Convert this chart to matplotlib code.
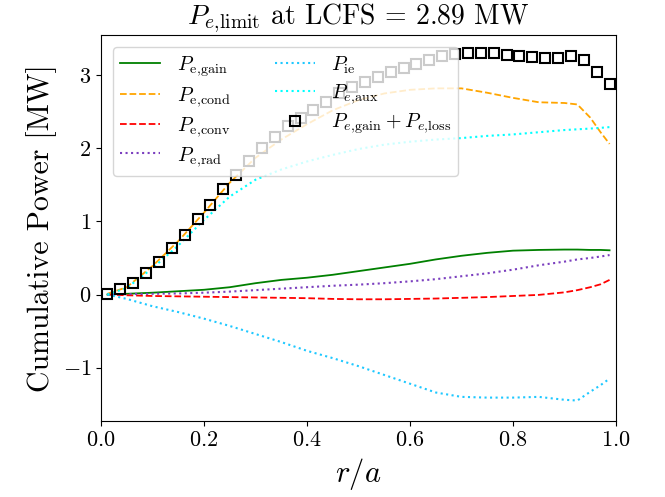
import matplotlib
matplotlib.use("Agg")
import matplotlib.pyplot as plt
import numpy as np

plt.rcParams['font.family'] = 'serif'
plt.rcParams['font.serif'] = ['cmr10']
plt.rcParams['mathtext.fontset'] = 'cm'
plt.rcParams['axes.formatter.use_mathtext'] = True

# radial grid of the curves
r_line = [0.0125, 0.05, 0.1, 0.15, 0.2, 0.25, 0.3, 0.35, 0.4, 0.45, 0.5, 0.55,
          0.6, 0.65, 0.7, 0.75, 0.8, 0.85, 0.9, 0.925, 0.95, 0.97, 0.9875]
p_gain = [0.0, 0.01, 0.025, 0.045, 0.065, 0.10, 0.155, 0.20, 0.23, 0.27, 0.32, 0.37,
          0.42, 0.48, 0.53, 0.57, 0.60, 0.61, 0.615, 0.615, 0.61, 0.61, 0.605]
p_cond = [0.01, 0.10, 0.39, 0.73, 1.12, 1.53, 1.87, 2.12, 2.33, 2.52, 2.66, 2.75,
          2.80, 2.82, 2.82, 2.76, 2.69, 2.63, 2.62, 2.60, 2.42, 2.22, 2.06]
p_conv = [0.0, -0.01, -0.02, -0.025, -0.03, -0.035, -0.04, -0.045, -0.05, -0.06, -0.065, -0.065,
          -0.06, -0.055, -0.045, -0.035, -0.02, -0.005, 0.03, 0.06, 0.10, 0.14, 0.20]
p_rad = [0.0, 0.005, 0.01, 0.015, 0.025, 0.04, 0.06, 0.08, 0.10, 0.12, 0.135, 0.155,
         0.18, 0.21, 0.25, 0.29, 0.34, 0.40, 0.45, 0.48, 0.50, 0.52, 0.54]
p_ie = [0.0, -0.06, -0.16, -0.24, -0.33, -0.43, -0.54, -0.65, -0.77, -0.87, -0.98, -1.10,
        -1.22, -1.34, -1.40, -1.41, -1.41, -1.40, -1.44, -1.45, -1.33, -1.24, -1.15]
p_aux = [0.0, 0.09, 0.36, 0.67, 1.02, 1.34, 1.57, 1.71, 1.82, 1.91, 1.99, 2.05,
         2.09, 2.12, 2.14, 2.17, 2.19, 2.22, 2.25, 2.26, 2.27, 2.28, 2.29]

# marker series
r_mark = [0.0125 + 0.025 * k for k in range(40)]
p_sum = [0.01, 0.07, 0.16, 0.29, 0.45, 0.63, 0.82, 1.03, 1.23, 1.44, 1.63, 1.83, 2.00, 2.16,
         2.30, 2.42, 2.53, 2.64, 2.75, 2.84, 2.91, 2.98, 3.04, 3.10, 3.16, 3.21, 3.26, 3.29,
         3.30, 3.30, 3.30, 3.28, 3.26, 3.25, 3.24, 3.24, 3.26, 3.21, 3.04, 2.88]

fig = plt.figure(figsize=(6.65, 4.97), dpi=100)
ax = fig.add_axes([101/665, 1 - 421/497, 515/665, 386/497])

ax.plot(r_line, p_gain, '-', color='green', lw=1.3, label=r'$P_{\mathrm{e{,}gain}}$')
ax.plot(r_line, p_cond, '--', color='orange', lw=1.3, label=r'$P_{\mathrm{e{,}cond}}$')
ax.plot(r_line, p_conv, '--', color='red', lw=1.3, label=r'$P_{\mathrm{e{,}conv}}$')
ax.plot(r_line, p_rad, ':', color='#7b3fbf', lw=1.5, label=r'$P_{\mathrm{e{,}rad}}$')
ax.plot(r_line, p_ie, ':', color='#1ec8ff', lw=1.5, label=r'$P_{\mathrm{ie}}$')
ax.plot(r_line, p_aux, ':', color='cyan', lw=1.5, label=r'$P_{e{,}\mathrm{aux}}$')
ax.plot(r_mark, p_sum, 's', mfc='none', mec='black', ms=7, mew=1.5, ls='none',
        label=r'$P_{e{,}\mathrm{gain}} + P_{e{,}\mathrm{loss}}$')

ax.set_xlim(0, 1.0)
ax.set_ylim(-1.73, 3.55)
ax.set_xticks([0, 0.2, 0.4, 0.6, 0.8, 1.0])
ax.set_yticks([-1, 0, 1, 2, 3])
ax.tick_params(labelsize=16)
ax.set_xlabel(r'$r/a$', fontsize=22)
ax.set_ylabel('Cumulative Power [MW]', fontsize=21.5)
ax.set_title(r'$P_{e{,}\mathrm{limit}}$ at LCFS = 2.89 MW', fontsize=20)

leg = ax.legend(loc='upper left', ncol=2, fontsize=14.5, framealpha=0.8,
                borderaxespad=0.6, columnspacing=2.2, labelspacing=0.3,
                borderpad=0.35)

fig.savefig('out.png', dpi=100)
